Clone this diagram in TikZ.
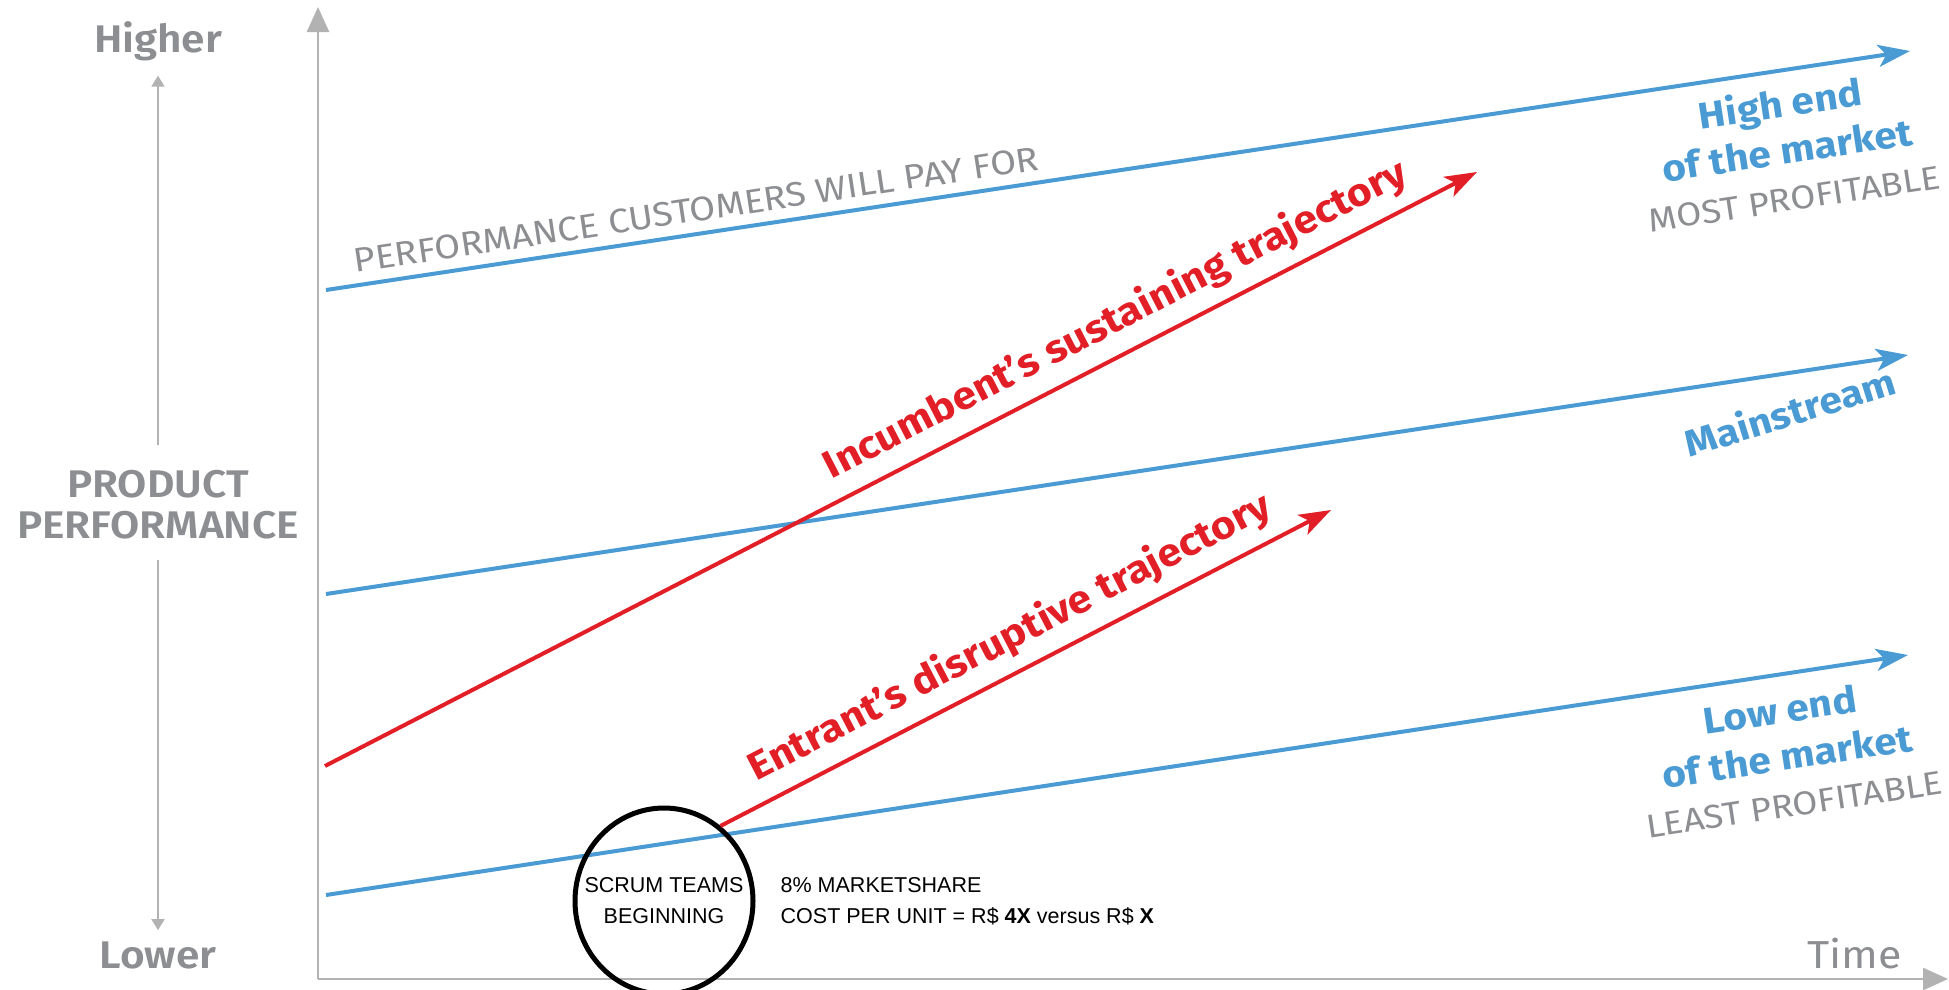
\documentclass[tikz,border=0pt]{standalone}
\usepackage{fontspec}
\setmainfont{Fira Sans}[FakeStretch=1.1]
\newfontfamily\semifont{Fira Sans SemiBold}[FakeStretch=1.1]
\newfontfamily\infofont{Liberation Sans}
\usetikzlibrary{arrows.meta, positioning, shapes.geometric}

\definecolor{axisgray}{RGB}{178,178,178}
\definecolor{textgray}{RGB}{140,142,146}
\definecolor{marketblue}{RGB}{74,154,212}
\definecolor{trajred}{RGB}{226,30,38}

\begin{document}
\begin{tikzpicture}[x=1pt, y=-1pt,
    axis/.style={draw=axisgray, line width=2.5pt, -{Triangle[length=25pt,width=22pt]}},
    small axis/.style={draw=axisgray, line width=1.8pt, -{Triangle[length=11pt,width=13pt]}},
    market/.style={draw=marketblue, line width=4pt, -{Stealth[length=32pt,width=22pt,inset=8pt]}},
    trajectory/.style={draw=trajred, line width=4pt, -{Stealth[length=32pt,width=22pt,inset=8pt]}},
    axis label/.style={text=textgray, font=\semifont\fontsize{38.5}{41}\selectfont, align=center, inner sep=0pt},
    gray label/.style={text=textgray, font=\fontsize{34}{38}\selectfont, inner sep=0pt},
    market label/.style={text=marketblue, font=\bfseries\fontsize{37}{47}\selectfont, align=center, inner sep=0pt, rotate=8.6},
    traj label/.style={text=trajred, font=\bfseries\fontsize{38.8}{42}\selectfont, inner sep=0pt},
    info/.style={font=\infofont\fontsize{21.5}{31}\selectfont, inner sep=0pt}]

  \fill[white] (0,0) rectangle (1949,989);
  \useasboundingbox (0,0) rectangle (1949,989);

  % axes
  \coordinate (origin) at (318,979);
  \coordinate (ytop) at (318,7);
  \coordinate (xend) at (1948,979);
  \draw[axis] (origin) -- (ytop);
  \draw[axis] (origin) -- (xend);
  \node[gray label, font=\fontsize{39}{42}\selectfont, anchor=base east] (time) at (1902,968) {Time};

  % y axis labels
  \node[axis label, anchor=base] (higher) at (158,52) {Higher};
  \node[axis label] (prodperf) at (158,505) {PRODUCT\\PERFORMANCE};
  \node[axis label, anchor=base] (lower) at (158,968) {Lower};
  \draw[small axis] ([yshift=25pt]prodperf.north) -- ([yshift=-15pt]higher.south);
  \draw[small axis] ([yshift=-20pt]prodperf.south) -- ([yshift=11pt]lower.north);

  % market tiers
  \coordinate (high0) at (326,290);
  \coordinate (high1) at (1910,51);
  \coordinate (main0) at (326,594);
  \coordinate (main1) at (1908,355);
  \coordinate (low0) at (326,895);
  \coordinate (low1) at (1908,655);
  \draw[market] (high0) -- node[pos=0.236, sloped, above=10pt, gray label] (payfor) {PERFORMANCE CUSTOMERS WILL PAY FOR} (high1);
  \draw[market] (main0) -- node[pos=0.92, sloped, below=21pt, market label] (mainlbl) {Mainstream} (main1);
  \draw[market] (low0) -- (low1);

  \node[market label] (highlbl) at (1787,149) {High end\\of the market\\\normalfont\fontsize{33}{47}\selectfont\color{textgray}MOST PROFITABLE};
  \node[market label] (lowlbl) at (1787,756) {Low end\\of the market\\\normalfont\fontsize{33}{47}\selectfont\color{textgray}LEAST PROFITABLE};

  % scrum teams start
  \node[ellipse, draw, line width=5pt, minimum width=178pt, minimum height=186pt, inner sep=0pt] (scrum) at (664,901) {};
  \node[info, align=center] (scrumtext) at (scrum.center) {SCRUM TEAMS\\BEGINNING};
  \node[info, align=left, right=25pt of scrum] (share) {8\% MARKETSHARE\\COST PER UNIT = R\$ \textbf{4X} versus R\$ \textbf{X}};

  % trajectories
  \coordinate (inc0) at (325,766);
  \coordinate (inc1) at (1477,172);
  \coordinate (ent1) at (1331,510);
  \draw[trajectory] (inc0) -- node[pos=0.70, sloped, above=12pt, traj label] (inclbl) {Incumbent’s sustaining trajectory} (inc1);
  \draw[trajectory] (scrum.53) -- node[pos=0.50, sloped, above=12pt, traj label] (entlbl) {Entrant’s disruptive trajectory} (ent1);
\end{tikzpicture}
\end{document}
